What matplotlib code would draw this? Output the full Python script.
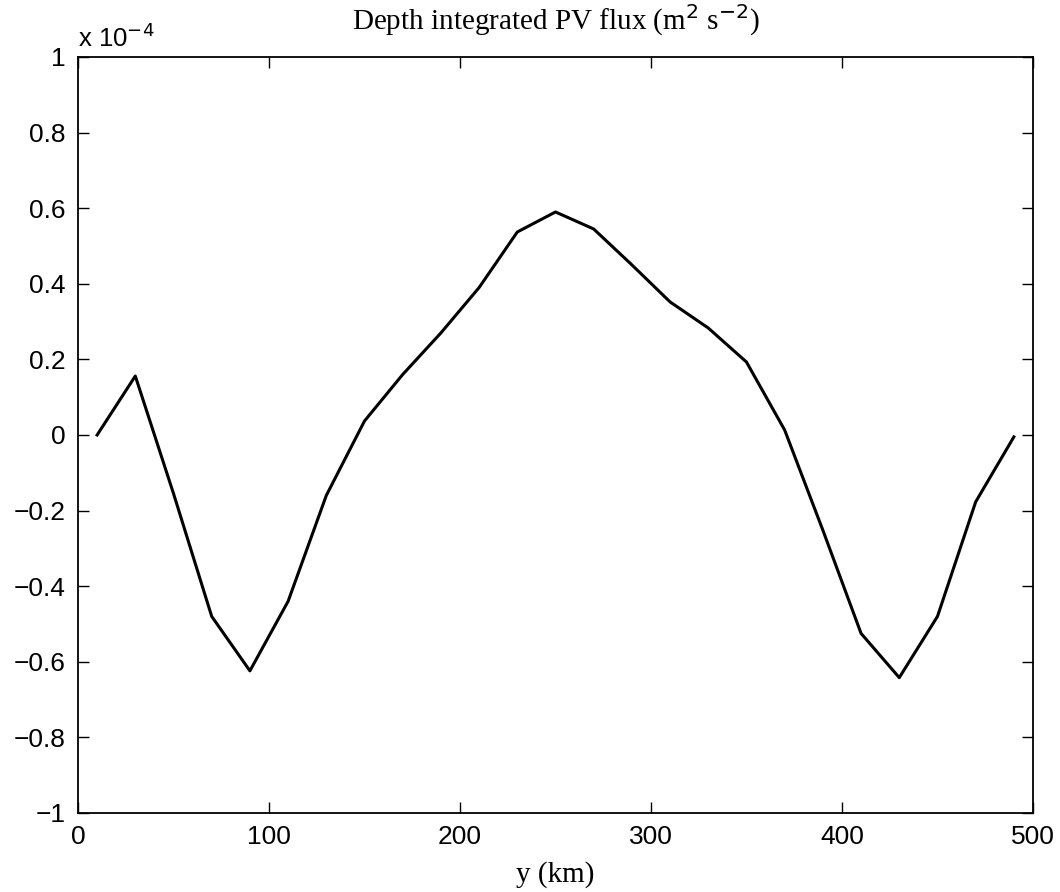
import matplotlib
matplotlib.use("Agg")
import matplotlib.pyplot as plt
from matplotlib.ticker import FuncFormatter, MultipleLocator

# Data (flux values in units of 1e-4 m^2 s^-2)
y_km = [10, 30, 50, 70, 90, 110, 130, 150, 170, 190, 210, 230, 250,
        270, 290, 310, 330, 350, 370, 390, 410, 430, 450, 470, 490]
flux = [0.0, 0.156, -0.155, -0.48, -0.624, -0.44, -0.16, 0.037, 0.16, 0.27,
        0.39, 0.537, 0.59, 0.545, 0.45, 0.352, 0.283, 0.193, 0.013, -0.252,
        -0.525, -0.642, -0.48, -0.177, -0.005]
x_ticks = [0, 100, 200, 300, 400, 500]
title = "Depth integrated PV flux (m$^2$ s$^{-2}$)"
xlabel = "y (km)"

fig = plt.figure(figsize=(10.6, 8.92), dpi=100)
ax = fig.add_axes([0.0736, 0.0886, 0.9009, 0.8475])
ax.plot(y_km, flux, color="black", linewidth=2.2)

ax.set_xlim(0, 500)
ax.set_ylim(-1, 1)
ax.set_xticks(x_ticks)
ax.yaxis.set_major_locator(MultipleLocator(0.2))

def fmt(v, pos):
    s = "%g" % round(v, 6)
    if s == "-0":
        s = "0"
    return s.replace("-", "\u2212")

ax.yaxis.set_major_formatter(FuncFormatter(fmt))
ax.xaxis.set_major_formatter(FuncFormatter(fmt))
ax.tick_params(direction="in", length=8, width=1.0, top=True, right=True,
               labelsize=19, pad=9)
for lab in ax.get_xticklabels() + ax.get_yticklabels():
    lab.set_family("Liberation Sans")
for s in ax.spines.values():
    s.set_linewidth(1.3)

ax.set_title(title, fontsize=21, family="Liberation Serif", pad=20)
ax.set_xlabel(xlabel, fontsize=21, family="Liberation Serif", labelpad=8)
ax.text(0.0, 1.006, "x 10$^{-4}$", transform=ax.transAxes, fontsize=18.5,
        family="Liberation Sans", ha="left", va="bottom")

fig.savefig("out.png", dpi=100)
